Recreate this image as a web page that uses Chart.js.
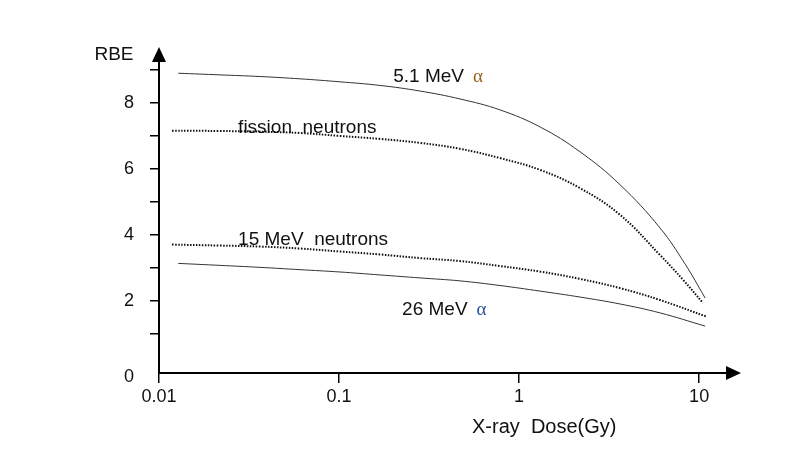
<!DOCTYPE html>
<html>
<head>
<meta charset="utf-8">
<script src="https://cdn.jsdelivr.net/npm/chart.js@4"></script>
<style>
  body { margin: 0; background: #fff; }
  #wrap { width: 807px; height: 450px; }
</style>
</head>
<body>
<div id="wrap"><canvas id="myChart" width="807" height="450"></canvas></div>
<script>
// valores
const alpha51Dose = [0.0128, 0.0218, 0.0364, 0.0607, 0.101, 0.169, 0.282, 0.47, 0.783, 1.31, 2.18, 3.64, 6.07, 8.36, 10.8];
const alpha51RBE  = [8.90, 8.85, 8.80, 8.73, 8.64, 8.53, 8.36, 8.12, 7.79, 7.27, 6.52, 5.52, 4.21, 3.12, 2.09];

const fissionDose = [0.0118, 0.0218, 0.0364, 0.0607, 0.101, 0.169, 0.282, 0.47, 0.783, 1.31, 2.18, 3.64, 6.07, 8.15, 10.5];
const fissionRBE  = [7.16, 7.15, 7.13, 7.09, 7.00, 6.91, 6.79, 6.61, 6.33, 5.97, 5.42, 4.61, 3.39, 2.64, 1.94];

const n15Dose = [0.0118, 0.0218, 0.0364, 0.0607, 0.101, 0.169, 0.282, 0.47, 0.783, 1.31, 2.18, 3.64, 6.07, 11.1];
const n15RBE  = [3.71, 3.68, 3.65, 3.59, 3.50, 3.41, 3.30, 3.21, 3.06, 2.89, 2.67, 2.39, 2.03, 1.52];

const alpha26Dose = [0.0128, 0.0218, 0.0364, 0.0607, 0.101, 0.169, 0.282, 0.47, 0.783, 1.31, 2.18, 3.64, 6.07, 10.8];
const alpha26RBE  = [3.14, 3.08, 3.02, 2.95, 2.88, 2.79, 2.70, 2.61, 2.47, 2.30, 2.12, 1.91, 1.64, 1.24];

const xTicks = [0.01, 0.1, 1, 10];
const xTickLabels = ['0.01', '0.1', '1', '10'];
const yTicks = [1, 2, 3, 4, 5, 6, 7, 8, 9];

const pts = (xs, ys) => xs.map((x, i) => ({ x: x, y: ys[i] }));

const solid = { borderColor: '#333', borderWidth: 1, pointRadius: 0, tension: 0.4, fill: false };
const dotted = { borderColor: '#111', borderWidth: 2, borderDash: [1.5, 1.5], pointRadius: 0, tension: 0.4, fill: false };

// etiquetas de las curvas (texto, letra griega opcional)
const curveLabels = [
  { text: '5.1 MeV', greek: 'α', greekColor: '#9a6419', x: 0.2, y: 8.79 },
  { text: 'fission  neutrons', x: 0.0275, y: 7.24 },
  { text: '15 MeV  neutrons', x: 0.0275, y: 3.85 },
  { text: '26 MeV', greek: 'α', greekColor: '#2453a0', x: 0.224, y: 1.73 }
];

const textFont = "19px 'Liberation Sans', Arial, sans-serif";

const decor = {
  id: 'decor',
  afterDraw(chart) {
    const c = chart.ctx;
    const a = chart.chartArea;
    const xs = chart.scales.x, ys = chart.scales.y;
    c.save();
    // ejes con flechas
    c.strokeStyle = '#000';
    c.fillStyle = '#000';
    c.lineWidth = 2;
    c.beginPath();
    c.moveTo(a.left, a.bottom);
    c.lineTo(a.right, a.bottom);
    c.moveTo(a.left, a.bottom);
    c.lineTo(a.left, a.top);
    c.stroke();
    c.beginPath();
    c.moveTo(a.right + 15, a.bottom);
    c.lineTo(a.right, a.bottom - 7);
    c.lineTo(a.right, a.bottom + 7);
    c.closePath();
    c.fill();
    c.beginPath();
    c.moveTo(a.left, a.top - 15);
    c.lineTo(a.left - 7, a.top);
    c.lineTo(a.left + 7, a.top);
    c.closePath();
    c.fill();

    // titulos
    c.font = textFont;
    c.fillStyle = '#111';
    c.textBaseline = 'middle';
    c.textAlign = 'center';
    c.fillText('RBE', 114, 55);
    c.font = "18px 'Liberation Sans', Arial, sans-serif";
    c.textAlign = 'right';
    c.fillText('0', a.left - 25, a.bottom + 4);  // el 0 va junto al eje
    c.textAlign = 'left';
    c.font = "20px 'Liberation Sans', Arial, sans-serif";
    c.fillText('X-ray  Dose(Gy)', 472, 427);

    // etiquetas de curvas
    curveLabels.forEach(l => {
      const px = xs.getPixelForValue(l.x);
      const py = ys.getPixelForValue(l.y);
      c.font = textFont;
      c.fillStyle = '#111';
      c.fillText(l.text, px, py);
      if (l.greek) {
        const w = c.measureText(l.text).width;
        c.font = "19px 'Liberation Serif', 'DejaVu Serif', serif";
        c.fillStyle = l.greekColor;
        c.fillText(l.greek, px + w + 9, py);
      }
    });
    c.restore();
  }
};

Chart.defaults.font.family = "'Liberation Sans', Arial, sans-serif";
Chart.defaults.font.size = 18;
Chart.defaults.color = '#111';

const ctx = document.getElementById('myChart');

new Chart(ctx, {
  type: 'line',
  data: {
    datasets: [
      Object.assign({ label: '5.1 MeV α', data: pts(alpha51Dose, alpha51RBE) }, solid),
      Object.assign({ label: 'fission neutrons', data: pts(fissionDose, fissionRBE) }, dotted),
      Object.assign({ label: '15 MeV neutrons', data: pts(n15Dose, n15RBE) }, dotted),
      Object.assign({ label: '26 MeV α', data: pts(alpha26Dose, alpha26RBE) }, solid)
    ]
  },
  options: {
    responsive: false,
    animation: false,
    layout: { padding: { top: 62, right: 81, left: 0, bottom: 0 } },
    plugins: { legend: { display: false }, tooltip: { enabled: false } },
    scales: {
      x: {
        type: 'logarithmic',
        min: 0.01,
        max: 14.1,
        afterBuildTicks: s => { s.ticks = xTicks.map(v => ({ value: v })); },
        afterFit: s => { s.height = 77; },
        ticks: {
          autoSkip: false,
          maxRotation: 0,
          padding: 3,
          callback: (v, i) => xTickLabels[i]
        },
        grid: { drawOnChartArea: false, drawTicks: true, tickLength: 10, color: '#000', lineWidth: 1.5 },
        border: { display: false }
      },
      y: {
        min: -0.18,
        max: 9.24,
        afterBuildTicks: s => { s.ticks = yTicks.map(v => ({ value: v })); },
        afterFit: s => { s.width = 159; },
        ticks: {
          padding: 16,
          callback: v => (v % 2 === 0 ? String(v) : '')
        },
        grid: { drawOnChartArea: false, drawTicks: true, tickLength: 9, color: '#000', lineWidth: 1.5 },
        border: { display: false }
      }
    }
  },
  plugins: [decor]
});
</script>
</body>
</html>
